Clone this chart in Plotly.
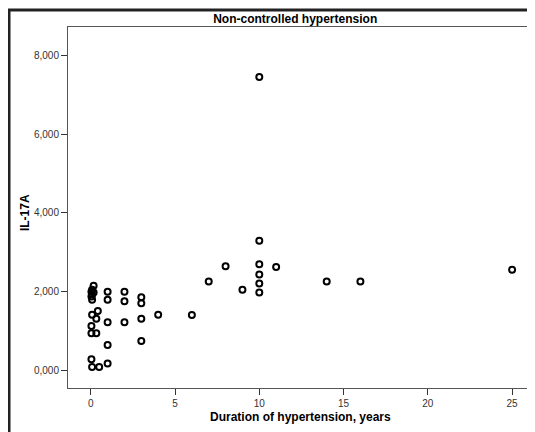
import plotly.graph_objects as go

duration_years = [
    0.17, 0.08, 0.04, 0.17, 0.08, 0.04, 0.08,
    1, 1, 2, 2, 3, 3,
    0.42, 0.08, 0.33, 4, 6, 1, 2, 3,
    0.04, 0.04, 0.33, 1, 3, 0.04, 0.08, 0.5, 1,
    10, 8, 10, 11, 10, 7, 10, 9, 10, 14, 16, 10, 25,
]
il17a = [
    2150, 2050, 2000, 1980, 1930, 1880, 1796,
    1999, 1796, 1999, 1756, 1857, 1705,
    1510, 1417, 1316, 1417, 1409, 1224, 1224, 1316,
    1131, 946, 946, 650, 751, 288, 86, 86, 177,
    3296, 2647, 2697, 2629, 2437, 2260, 2209, 2048, 1982, 2260, 2260, 7456, 2555,
]

x_tick_vals = [0, 5, 10, 15, 20, 25]
x_tick_text = ["0", "5", "10", "15", "20", "25"]
y_tick_vals = [0, 2000, 4000, 6000, 8000]
y_tick_text = ["0,000", "2,000", "4,000", "6,000", "8,000"]

fig = go.Figure()
fig.add_trace(go.Scatter(
    x=duration_years, y=il17a, mode="markers",
    marker=dict(symbol="circle-open", size=6, color="black", line=dict(width=2, color="black")),
    showlegend=False,
))

font = "Liberation Sans, Arial, sans-serif"
fig.update_layout(
    width=527, height=424,
    margin=dict(l=60, r=1, t=19, b=44),
    paper_bgcolor="white", plot_bgcolor="white",
    font=dict(family=font, size=10, color="#333"),
    title=dict(text="<b>Non-controlled hypertension</b>", x=0.545, xanchor="center",
               y=0.974, yanchor="middle", font=dict(family=font, size=12, color="black")),
    xaxis=dict(
        range=[-1.35, 26.3], tickvals=x_tick_vals, ticktext=x_tick_text,
        showgrid=False, zeroline=False, ticks="outside", ticklen=6, tickwidth=1,
        tickcolor="#333", showline=True, linecolor="#555", linewidth=1, mirror=True,
        automargin=False, tickfont=dict(size=10, color="#333"),
    ),
    yaxis=dict(
        range=[-445, 8723], tickvals=y_tick_vals, ticktext=y_tick_text,
        showgrid=False, zeroline=False, ticks="outside", ticklen=6, tickwidth=1,
        tickcolor="#333", showline=True, linecolor="#555", linewidth=1, mirror=True,
        automargin=False, tickfont=dict(size=10, color="#333"),
    ),
    annotations=[
        dict(text="<b>Duration of hypertension, years</b>", xref="paper", yref="paper",
             x=0.498, y=-0.080, xanchor="center", yanchor="middle", showarrow=False,
             font=dict(family=font, size=12, color="black")),
        dict(text="<b>IL-17A</b>", xref="paper", yref="paper", textangle=-90,
             x=-0.092, y=0.485, xanchor="center", yanchor="middle", showarrow=False,
             font=dict(family=font, size=12, color="black")),
    ],
)
fig.add_shape(type="rect", xref="paper", yref="paper",
              x0=-0.1266, x1=1.3, y0=-0.4, y1=1.047,
              line=dict(color="#222", width=3), fillcolor="rgba(0,0,0,0)", layer="below")
fig.write_html("out.html")
